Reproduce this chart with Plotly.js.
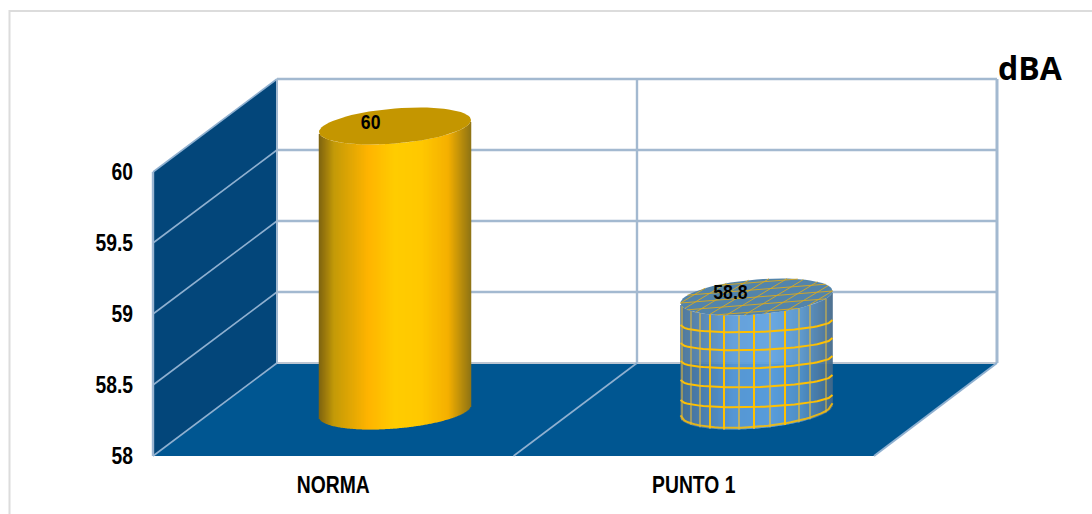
<!DOCTYPE html>
<html><head><meta charset="utf-8">
<script src="https://cdn.plot.ly/plotly-3.0.1.min.js"></script>
<style>html,body{margin:0;padding:0;background:#fff}#c{width:1092px;height:514px}</style>
</head><body><div id="c"></div>
<script>
const categories = ['NORMA', 'PUNTO 1'];
const values = [60, 58.8];
const yTicks = [58, 58.5, 59, 59.5, 60];
const yTickText = ['58', '58.5', '59', '59.5', '60'];
const unitLabel = 'dBA';

(function(){
const W = 1092, H = 514;
const BASE = yTicks[0];
const FONT = '"Liberation Sans",Arial,sans-serif';
const front = {l:153, r:874, b:456, t:172};
const depth = {x:124, y:93};
const uY = (front.b-front.t)/2;
// cylinder axes: same scales, moved half-way into the floor
const cyl = {x0:395, xu:361.5, y0:411, yu:142.5, rx:76, ry:17.5, tilt:6};
const rxU = cyl.rx/cyl.xu, ryU = cyl.ry/cyl.yu, tiltU = cyl.tilt/cyl.yu;

const goldStops = [[-1,'#7d6210'],[-0.8,'#c39a08'],[-0.35,'#ffb400'],[0,'#ffcc00'],[0.35,'#ffc800'],[0.7,'#f5b000'],[1,'#8f7414']];
const blueStops = [[-1,'#456f94'],[-0.75,'#4f7fab'],[-0.3,'#5b9bd8'],[0.2,'#5fa2e0'],[0.6,'#5492c8'],[1,'#44698a']];
const topColors = ['#c49600', '#5384aa'];

function hex(c){return [1,3,5].map(i=>parseInt(c.substr(i,2),16));}
function grad(stops,u){
  for(let i=1;i<stops.length;i++){ if(u<=stops[i][0]){
    const a=stops[i-1],b=stops[i],t=(u-a[0])/(b[0]-a[0]),A=hex(a[1]),B=hex(b[1]);
    return 'rgb('+A.map((v,k)=>Math.round(v+(B[k]-v)*t)).join(',')+')';}}
  return stops[stops.length-1][1];
}
// front rim of an elliptical slice, in data units from the slice's centre
const rim = u => -ryU*Math.sqrt(Math.max(0,1-u*u)) + tiltU*u;
// flatter curve followed by the mesh rings
const ring = u => -(9.5/cyl.yu)*Math.sqrt(Math.max(0,1-u*u)) + (2.5/cyl.yu)*u;

const traces = [];
// invisible carrier so the front axes draw their labels
traces.push({type:'scatter',mode:'none',x:categories.map((c,i)=>i),y:values,xaxis:'x',yaxis:'y',hoverinfo:'skip',showlegend:false});

// bodies
categories.forEach((c,i)=>{
  const stops = i===0?goldStops:blueStops;
  const xs=[],ys=[],bs=[],cs=[],ws=[];
  const n=Math.round(cyl.rx*2);
  for(let k=0;k<n;k++){
    const u=-1+(k+0.5)*2/n;
    xs.push(i+u*rxU); ys.push(values[i]-BASE); bs.push(BASE+rim(u)); cs.push(grad(stops,u)); ws.push(1.5*2*rxU/n);
  }
  traces.push({type:'bar',x:xs,y:ys,base:bs,width:ws,marker:{color:cs,line:{width:0}},xaxis:'x2',yaxis:'y2',hoverinfo:'skip',showlegend:false});
});

// tops
categories.forEach((c,i)=>{
  const xs=[],ys=[];
  for(let a=0;a<=72;a++){const t=a/72*2*Math.PI;xs.push(i+rxU*Math.cos(t));ys.push(values[i]+ryU*Math.sin(t)+tiltU*Math.cos(t));}
  traces.push({type:'scatter',mode:'lines',x:xs,y:ys,fill:'toself',fillcolor:topColors[i],line:{width:0,color:topColors[i]},xaxis:'x2',yaxis:'y2',hoverinfo:'skip',showlegend:false});
});

// mesh on the second cylinder
function addLine(xs,ys,color,w){traces.push({type:'scatter',mode:'lines',x:xs,y:ys,line:{color:color,width:w},xaxis:'x2',yaxis:'y2',hoverinfo:'skip',showlegend:false});}
const m=1, topV=values[m];
const ringCurve=(L,fn)=>{const xs=[],ys=[];for(let k=0;k<=40;k++){const u=-1+k/20;xs.push(m+u*rxU);ys.push(L+fn(u));}return [xs,ys];};
[58.095,58.235,58.368,58.495,58.621].forEach(L=>{
  const c=ringCurve(L,ring); addLine(c[0],c[1],'#ffc000',2);
});
{ const c=ringCurve(58.012,rim); addLine(c[0],c[1],'rgba(255,192,0,0.85)',2); }
const pale='rgba(226,186,60,0.8)', strong='#ffc000';
[[682,pale,1.3],[691,pale,1.3],[700,pale,1.5],[710,strong,1.8],[724,strong,2],[739,pale,1.8],[754,strong,2],[770,pale,1.8],[785,strong,2],[799,pale,1.6],[810,pale,1.5],[826,pale,1.3]].forEach(v=>{
  const u=(v[0]-(cyl.x0+cyl.xu))/cyl.rx;
  addLine([m+u*rxU,m+u*rxU],[BASE+rim(u),topV+rim(u)],v[1],v[2]);
});
const gridTop='rgba(218,170,30,0.9)';
[-0.84,-0.42,0,0.42,0.84].forEach(q=>{ // lines along the tilt
  const p=Math.sqrt(1-q*q),xs=[],ys=[];
  [-p,p].forEach(v=>{xs.push(m+v*rxU);ys.push(topV+ryU*q+tiltU*v);});
  addLine(xs,ys,gridTop,1);
});
const a=0.44;
[-1.0,-0.8,-0.54,-0.27,0,0.27,0.54,0.8,1.0].forEach(p0=>{ // oblique lines
  const A=1+a*a,B=-2*a*p0,C=p0*p0-1,D=B*B-4*A*C;
  if(D<=0)return;
  const xs=[],ys=[];
  [(-B-Math.sqrt(D))/(2*A),(-B+Math.sqrt(D))/(2*A)].forEach(q=>{
    const p=p0-a*q; xs.push(m+p*rxU); ys.push(topV-ryU*q+tiltU*p);
  });
  addLine(xs,ys,gridTop,1);
});

// walls
const px=(x,y)=>(x/W).toFixed(5)+' '+(1-y/H).toFixed(5);
const poly=pts=>'M'+pts.map(p=>px(p[0],p[1])).join('L')+'Z';
const oline=pts=>'M'+pts.map(p=>px(p[0],p[1])).join('L');
const yOf=v=>front.b-(v-BASE)*uY;
const G='#a3b9d0', G2='#8fb0d0';
const shape=(path,fill,col,w)=>({type:'path',xref:'paper',yref:'paper',layer:'below',path,fillcolor:fill||'rgba(0,0,0,0)',line:{color:col||'rgba(0,0,0,0)',width:w||0}});
const bl=[front.l,front.b], br=[front.r,front.b], bbl=[front.l+depth.x,front.b-depth.y], bbr=[front.r+depth.x-1,front.b-depth.y];
const backTop=yOf(60)-depth.y;
const shapes=[
  shape(oline([[9.5,514],[9.5,11],[1092,11]]),null,'#dcdcdc',2),
  shape(poly([[front.l,front.t],[front.l+depth.x,backTop],bbl,bl]),'#03467a'),
  shape(poly([bl,br,bbr,bbl]),'#005691'),
];
yTicks.forEach(v=>{
  const y=yOf(v);
  if(v>BASE) shapes.push(shape(oline([[front.l+depth.x,y-depth.y],[bbr[0],y-depth.y]]),null,G,2.6));
  else shapes.push(shape(oline([bbl,bbr]),null,'#bcc6d2',2));
  shapes.push(shape(oline([[front.l,y],[front.l+depth.x,y-depth.y]]),null,G2,1.6));
});
shapes.push(shape(oline([[front.l,front.t],[front.l,front.b]]),null,'#9cb6d2',2.4));
shapes.push(shape(oline([bbl,[bbl[0],backTop]]),null,G,2));
shapes.push(shape(oline([[637,bbl[1]],[637,backTop]]),null,G,2.4));
shapes.push(shape(oline([bbr,[bbr[0],backTop]]),null,G,3));
shapes.push(shape(oline([[513.5,front.b],[637,bbl[1]]]),null,G2,1.6));
shapes.push(shape(oline([br,bbr]),null,G2,2));

const labelFont={family:FONT,size:21,color:'#000',weight:'bold'};
const tickFont={family:FONT,size:23,color:'#000',weight:'bold'};
const annotations=[
  {text:String(values[0]),xref:'x2',yref:'y2',x:0,y:values[0],xshift:-25,yshift:5,showarrow:false,font:labelFont},
  {text:String(values[1]),xref:'x2',yref:'y2',x:1,y:values[1],xshift:-26,yshift:6,showarrow:false,font:labelFont},
  {text:unitLabel,xref:'paper',yref:'paper',x:1030.5/W,y:1-68/H,xanchor:'center',yanchor:'middle',showarrow:false,font:{family:'"Open Sans",sans-serif',size:32,color:'#000',weight:'bold'}}
];

const layout={
  width:W,height:H,margin:{l:0,r:0,t:0,b:0,pad:0},paper_bgcolor:'#fff',plot_bgcolor:'rgba(0,0,0,0)',
  showlegend:false,hovermode:false,barmode:'overlay',shapes,annotations,
  xaxis:{domain:[front.l/W,front.r/W],range:[-0.5,1.5],tickmode:'array',tickvals:categories.map((c,i)=>i),ticktext:categories,
    showgrid:false,zeroline:false,showline:false,ticks:'',ticklabelstandoff:13,tickfont:tickFont,fixedrange:true},
  yaxis:{domain:[1-front.b/H,1-front.t/H],range:[58,60],tickmode:'array',tickvals:yTicks,ticktext:yTickText,
    showgrid:false,zeroline:false,showline:false,ticks:'',ticklabelstandoff:19,tickfont:tickFont,fixedrange:true},
  xaxis2:{domain:[0,1],range:[-cyl.x0/cyl.xu,(W-cyl.x0)/cyl.xu],anchor:'y2',visible:false,fixedrange:true},
  yaxis2:{domain:[0,1],range:[BASE-(H-cyl.y0)/cyl.yu,BASE+cyl.y0/cyl.yu],anchor:'x2',visible:false,fixedrange:true}
};
Plotly.newPlot('c',traces,layout,{displayModeBar:false,staticPlot:true}).then(gd=>{
  // Arial Narrow Bold look: condense the real text horizontally
  const nodes=gd.querySelectorAll('.xtick text,.ytick text,.annotation-text');
  nodes.forEach(t=>{
    if(t.textContent===unitLabel) return;
    t.setAttribute('lengthAdjust','spacingAndGlyphs');
    t.setAttribute('textLength',(t.getComputedTextLength()*0.84).toFixed(2));
  });
});
})();
</script></body></html>
